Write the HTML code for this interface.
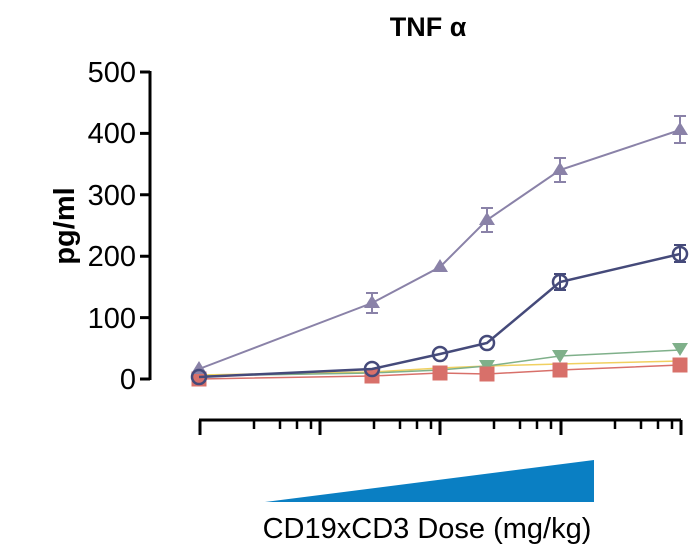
<!DOCTYPE html><html><head><style>body{margin:0;background:#fff}svg{display:block}text{font-family:"Liberation Sans",sans-serif}</style></head><body>
<svg width="690" height="560" viewBox="0 0 690 560">
<text x="428" y="36" font-size="27" font-weight="bold" text-anchor="middle">TNF α</text>
<text transform="translate(74,226) rotate(-90)" font-size="29" font-weight="bold" text-anchor="middle">pg/ml</text>
<g stroke="#000" stroke-width="3" fill="none">
<path d="M150,71V380M140,72H150M140,133.4H150M140,194.8H150M140,256.2H150M140,317.6H150M140,379H150"/>
<path d="M199,420H681M200,420V435M320,420V435M440,420V435M561,420V435M681,420V435"/>
<path stroke-width="2.5" d="M254,420V429M280,420V429M297,420V429M311,420V429M374,420V429M400,420V429M417,420V429M431,420V429M494,420V429M520,420V429M537,420V429M551,420V429M615,420V429M641,420V429M658,420V429M672,420V429"/>
</g>
<g font-size="29" text-anchor="end">
<text x="136" y="82">500</text><text x="136" y="143">400</text><text x="136" y="205">300</text><text x="136" y="266">200</text><text x="136" y="328">100</text><text x="136" y="389">0</text>
</g>
<polygon points="265,502 594,460 594,502" fill="#0a7fc3"/>
<text x="427" y="538" font-size="29" text-anchor="middle">CD19xCD3 Dose (mg/kg)</text>
<polyline points="199,375 372,372 440,368 487,366 560,364 680,361" fill="none" stroke="#f0d060" stroke-width="1.5"/>
<g stroke="#7fb08a" fill="#7fb08a"><polyline points="199,376 372,373 440,370 487,366 560,356 680,350" fill="none" stroke-width="1.5"/>
<path d="M479,360h16l-8,13zM552,350h16l-8,13zM672,343h16l-8,13z" stroke="none"/></g>
<g stroke="#d8706a" fill="#d8706a"><polyline points="199,379 372,376 440,373 487,374 560,370 680,365" fill="none" stroke-width="1.5"/>
<rect x="192" y="372" width="14" height="14"/><rect x="365" y="369" width="14" height="14"/><rect x="433" y="366" width="14" height="14"/><rect x="480" y="367" width="14" height="14"/><rect x="553" y="363" width="14" height="14"/><rect x="673" y="358" width="14" height="14"/></g>
<g stroke="#8a82a8" fill="#8a82a8"><polyline points="199,369 372,303 440,267 487,220 560,170 680,130" fill="none" stroke-width="2"/>
<path d="M372,293V313M366,293H378M366,313H378M487,208V232M481,208H493M481,232H493M560,158V182M554,158H566M554,182H566M680,116V143M674,116H686M674,143H686" fill="none" stroke-width="2"/>
<path d="M199,361l8,13h-16zM372,295l8,13h-16zM440,259l8,13h-16zM487,212l8,13h-16zM560,162l8,13h-16zM680,122l8,13h-16z" stroke="none"/></g>
<g stroke="#454a7a" fill="none" stroke-width="2.5"><polyline points="199,377 372,369 440,354 487,343 560,282 680,254"/>
<path d="M560,274V290M554,274H566M554,290H566M680,245V262M674,245H686M674,262H686" stroke-width="2"/>
<circle cx="199" cy="377" r="7"/><circle cx="372" cy="369" r="7"/><circle cx="440" cy="354" r="7"/><circle cx="487" cy="343" r="7"/><circle cx="560" cy="282" r="7"/><circle cx="680" cy="254" r="7"/></g>
</svg></body></html>
